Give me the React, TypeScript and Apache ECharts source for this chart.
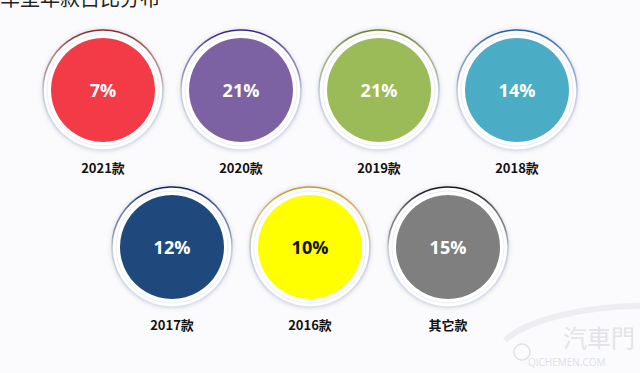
import React, { useEffect, useRef } from "react";
import * as echarts from "echarts";

const categories = ["2021款", "2020款", "2019款", "2018款", "2017款", "2016款", "其它款"];
const shares = [7, 21, 21, 14, 12, 10, 15];
const fillColors = ["#F23B46", "#7C62A2", "#9BBB59", "#4BACC6", "#1F497D", "#FFFF00", "#7F7F7F"];
const rimColors = ["#8a2a2a", "#3b1e8c", "#6b7f2a", "#1f5fa8", "#0d1f6b", "#c89a1e", "#111111"];
const textColors = ["#ffffff", "#ffffff", "#ffffff", "#ffffff", "#ffffff", "#111111", "#ffffff"];

const FIRST_ROW = 4;

function layout(i: number): [number, number] {
  if (i < FIRST_ROW) return [i, 0];
  return [i - FIRST_ROW + 0.5, 1];
}

export default function App() {
  const ref = useRef<HTMLDivElement>(null);
  useEffect(() => {
    document.body.style.margin = "0";
    if (!ref.current) return;
    const chart = echarts.init(ref.current, undefined, { renderer: "svg" });
    const ringData = categories.map((name, i) => ({
      name,
      value: layout(i),
      itemStyle: {
        borderColor: {
          type: "linear",
          x: 0, y: 0, x2: 0, y2: 1,
          colorStops: [
            { offset: 0, color: rimColors[i] },
            { offset: 0.22, color: rimColors[i] + "88" },
            { offset: 0.5, color: "#c3cadc" },
            { offset: 1, color: "#dde2ee" },
          ],
        },
      },
    }));
    const fillData = categories.map((name, i) => ({
      name,
      value: [...layout(i), shares[i]],
      itemStyle: { color: fillColors[i], opacity: 1 },
      label: { color: textColors[i] },
    }));
    chart.setOption({
      animation: false,
      backgroundColor: "#fbfbfd",
      grid: { left: 103, right: 123, top: 90, bottom: 126 },
      xAxis: { type: "value", min: 0, max: 3, show: false },
      yAxis: { type: "value", min: 0, max: 1, inverse: true, show: false },
      graphic: [
        {
          type: "text",
          left: 0,
          top: -13,
          style: { text: "车型年款占比分布", fontSize: 20, fill: "#222", fontFamily: "Noto Sans CJK SC" },
        },
        {
          type: "bezierCurve",
          shape: { x1: 505, y1: 340, cpx1: 530, cpy1: 318, cpx2: 590, cpy2: 306, x2: 640, y2: 306 },
          style: { stroke: "#eeeef2", lineWidth: 6, fill: "none" },
        },
        {
          type: "circle",
          shape: { cx: 522, cy: 352, r: 8 },
          style: { fill: "none", stroke: "#e2e2e6", lineWidth: 1.5 },
        },
        {
          type: "text",
          left: 563,
          top: 324,
          style: { text: "汽車門", fontSize: 24, fill: "#e3e3e8", fontFamily: "Noto Sans CJK SC" },
        },
        {
          type: "text",
          left: 528,
          top: 357,
          style: { text: "QICHEMEN.COM", fontSize: 10, fill: "#e0e0e6", fontFamily: "Open Sans" },
        },
      ],
      series: [
        {
          type: "scatter",
          symbol: "circle",
          symbolSize: 120,
          silent: true,
          z: 1,
          itemStyle: {
            color: "#ffffff",
            opacity: 1,
            borderWidth: 1.6,
            shadowBlur: 4,
            shadowColor: "rgba(110,120,150,0.30)",
          },
          label: {
            show: true,
            position: "bottom",
            distance: 10,
            formatter: (p: any) => p.name,
            fontSize: 13,
            fontWeight: "bold",
            color: "#111",
            fontFamily: "Noto Sans CJK SC",
          },
          data: ringData,
        },
        {
          type: "scatter",
          symbol: "circle",
          symbolSize: 112,
          silent: true,
          z: 2,
          itemStyle: { color: "#ffffff", opacity: 1, borderWidth: 1, borderColor: "#eceef4" },
          data: categories.map((name, i) => ({ name, value: layout(i) })),
        },
        {
          type: "scatter",
          symbol: "circle",
          symbolSize: 104,
          silent: true,
          z: 3,
          itemStyle: { opacity: 1 },
          label: {
            show: true,
            position: "inside",
            formatter: (p: any) => p.value[2] + "%",
            fontSize: 18,
            fontWeight: "bold",
            fontFamily: "Open Sans",
          },
          data: fillData,
        },
      ],
    });
    return () => chart.dispose();
  }, []);
  return <div ref={ref} style={{ width: 640, height: 373 }} />;
}
